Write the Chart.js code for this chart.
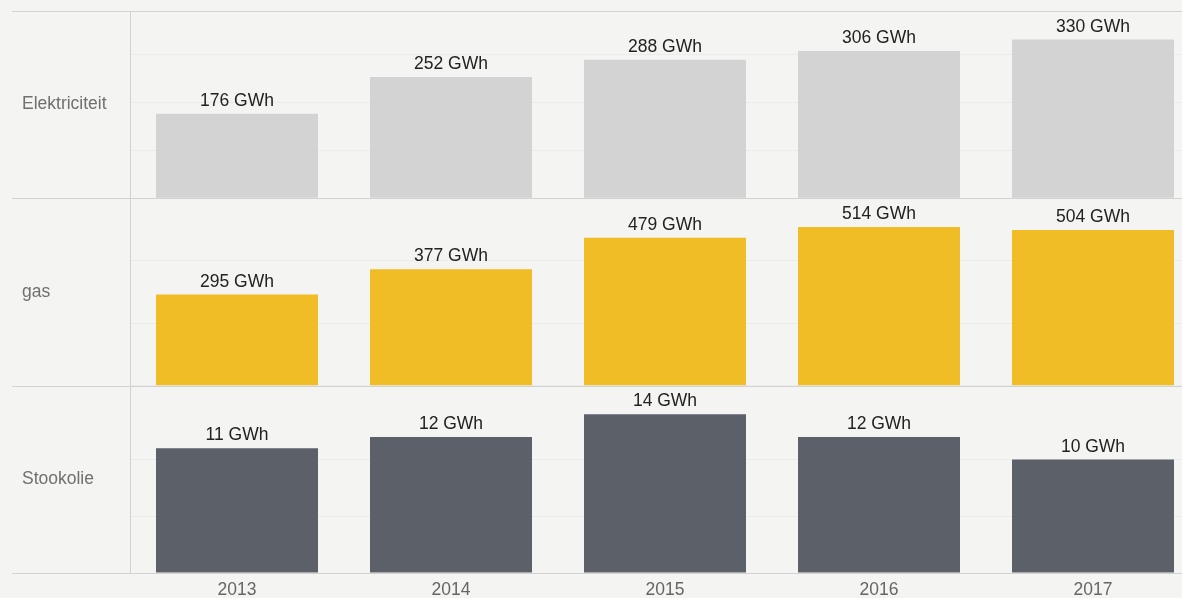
<!DOCTYPE html>
<html lang="nl">
<head>
  <meta charset="UTF-8" />
  <title>Energieverbruik per jaar</title>
  <script src="https://cdn.jsdelivr.net/npm/chart.js"></script>
  <style>
    html, body { margin: 0; padding: 0; background: #f4f4f2; overflow: hidden; }
    #wrap { width: 1182px; height: 598px; overflow: hidden; }
  </style>
</head>
<body>
  <div id="wrap"><canvas id="energyChart" width="1200" height="598"></canvas></div>

  <script>
    // data
    const years = ['2013', '2014', '2015', '2016', '2017'];
    const rowNames = ['Elektriciteit', 'gas', 'Stookolie'];
    const elektriciteit = [176, 252, 288, 306, 330];
    const gas = [295, 377, 479, 514, 504];
    const stookolie = [11, 12, 14, 12, 10];
    const gridSteps = [100, 200, 5];
    const unit = 'GWh';

    const rowColors = ['#d3d3d3', '#f0bd27', '#5c6069'];
    const fontFamily = '"Liberation Sans", Arial, Helvetica, sans-serif';
    const sepColor = '#d2d2d0';

    Chart.defaults.font.family = fontFamily;

    function rowAxis(values, step) {
      return {
        type: 'linear',
        position: 'left',
        stack: 'rows',
        stackWeight: 1,
        min: 0,
        max: Math.max(...values) * 1.18,
        ticks: { display: false, stepSize: step },
        grid: { color: '#ebebe9', drawTicks: false },
        border: { display: true, color: sepColor },
        afterFit: s => { s.width = 130; }
      };
    }

    // row separators + row names
    const panelFrame = {
      id: 'panelFrame',
      beforeDatasetsDraw(chart) {
        const ctx = chart.ctx;
        ctx.save();
        ctx.strokeStyle = sepColor;
        ctx.lineWidth = 1;
        ['y0', 'y1', 'y2'].forEach(id => {
          const s = chart.scales[id];
          [s.top, s.bottom].forEach(y => {
            const py = Math.round(y) + 0.5;
            ctx.beginPath();
            ctx.moveTo(12, py);
            ctx.lineTo(chart.width, py);
            ctx.stroke();
          });
        });
        ctx.restore();
      },
      afterDraw(chart) {
        const ctx = chart.ctx;
        ctx.save();
        ctx.font = '17.5px ' + fontFamily;
        ctx.fillStyle = '#707070';
        ctx.textAlign = 'left';
        ctx.textBaseline = 'middle';
        ['y0', 'y1', 'y2'].forEach((id, i) => {
          const s = chart.scales[id];
          ctx.fillText(rowNames[i], 22, (s.top + s.bottom) / 2);
        });
        ctx.restore();
      }
    };

    // value above each bar
    const valueLabels = {
      id: 'valueLabels',
      afterDatasetsDraw(chart) {
        const ctx = chart.ctx;
        ctx.save();
        ctx.font = '17.5px ' + fontFamily;
        ctx.fillStyle = '#222222';
        ctx.textAlign = 'center';
        ctx.textBaseline = 'alphabetic';
        chart.data.datasets.forEach((ds, i) => {
          chart.getDatasetMeta(i).data.forEach((bar, j) => {
            ctx.fillText(ds.data[j] + ' ' + unit, bar.x, bar.y - 8);
          });
        });
        ctx.restore();
      }
    };

    const series = [elektriciteit, gas, stookolie];

    new Chart(document.getElementById('energyChart'), {
      type: 'bar',
      data: {
        labels: years,
        datasets: series.map((values, i) => ({
          label: rowNames[i],
          data: values,
          yAxisID: 'y' + i,
          backgroundColor: rowColors[i],
          borderWidth: 0,
          grouped: false,
          barPercentage: 0.757,
          categoryPercentage: 1
        }))
      },
      options: {
        responsive: false,
        animation: false,
        layout: { padding: { top: 11, left: 0, right: 0, bottom: 0 } },
        scales: {
          x: {
            grid: { display: false, drawTicks: false },
            border: { display: false },
            ticks: { color: '#666666', font: { size: 17.5 }, padding: 7 },
            afterFit: s => { s.height = 25; }
          },
          // stacked left axes: the last one listed ends up on top
          y2: rowAxis(stookolie, gridSteps[2]),
          y1: rowAxis(gas, gridSteps[1]),
          y0: rowAxis(elektriciteit, gridSteps[0])
        },
        plugins: {
          legend: { display: false },
          tooltip: { enabled: false }
        }
      },
      plugins: [panelFrame, valueLabels]
    });
  </script>
</body>
</html>
